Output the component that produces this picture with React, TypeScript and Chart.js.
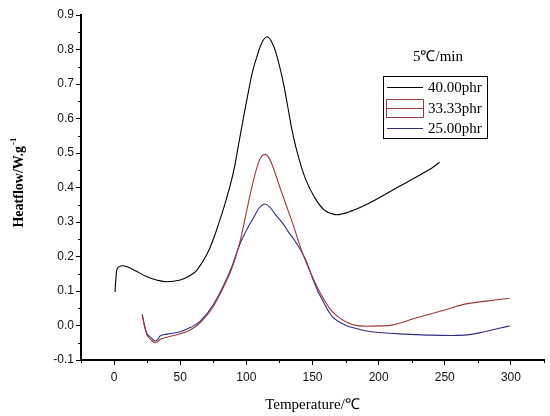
import React, { useEffect, useRef } from "react";
import { Chart, registerables } from "chart.js";

Chart.register(...registerables);

// ---- Data ----
const seriesLabels = ["40.00phr", "33.33phr", "25.00phr"];
const seriesColors = ["#000000", "#9a3a3a", "#2e2e7e"];

const temp40 = [0.7, 1.5, 2.5, 6, 10, 15, 25, 32, 40, 50, 57.5, 62.5, 70, 75, 80, 85, 90, 93.8, 97.5, 101.3, 105, 108.8, 112, 115.8, 119, 122.5, 127.5, 131.3, 135, 140, 145, 151.3, 158.8, 166.3, 172, 180, 190, 215, 240, 246];
const heat40 = [0.097, 0.14, 0.166, 0.173, 0.17, 0.161, 0.141, 0.132, 0.127, 0.132, 0.145, 0.16, 0.205, 0.25, 0.306, 0.368, 0.441, 0.518, 0.596, 0.673, 0.741, 0.789, 0.822, 0.837, 0.823, 0.789, 0.712, 0.634, 0.557, 0.48, 0.422, 0.373, 0.335, 0.322, 0.323, 0.333, 0.349, 0.402, 0.456, 0.473];

const temp33 = [21.3, 23, 25, 28, 31.3, 35, 40, 50, 57.5, 65, 75, 87.5, 92, 95, 98.8, 102.5, 106, 109, 111.5, 114.5, 117.5, 121, 126, 130, 135, 142.5, 150, 157.5, 165, 175, 185, 200, 210, 227.5, 250, 265, 280, 299];
const heat33 = [0.03, 0.0, -0.028, -0.042, -0.05, -0.04, -0.034, -0.024, -0.013, 0.008, 0.055, 0.151, 0.2, 0.24, 0.306, 0.373, 0.43, 0.47, 0.49, 0.496, 0.483, 0.45, 0.393, 0.35, 0.296, 0.209, 0.141, 0.083, 0.04, 0.011, -0.001, -0.001, 0.001, 0.021, 0.045, 0.062, 0.07, 0.079];

const temp25 = [21.3, 23, 25, 28, 31, 33, 35, 40, 50, 57.5, 65, 75, 87.5, 95, 100, 103, 106.3, 110, 113.8, 117.5, 121.3, 127.5, 132, 136.3, 142.5, 146, 150, 154, 157.5, 165, 175, 182.5, 190, 202.5, 220, 240, 265, 280, 299];
const heat25 = [0.032, 0.0, -0.025, -0.035, -0.045, -0.04, -0.03, -0.025, -0.018, -0.006, 0.012, 0.06, 0.156, 0.235, 0.275, 0.297, 0.318, 0.342, 0.352, 0.344, 0.325, 0.296, 0.27, 0.248, 0.209, 0.18, 0.137, 0.1, 0.074, 0.026, 0.001, -0.008, -0.015, -0.021, -0.025, -0.028, -0.028, -0.018, -0.001];

const xTickValues = [0, 50, 100, 150, 200, 250, 300];
const xMinorValues = [-25, 25, 75, 125, 175, 225, 275, 325];
const yTickValues = [-0.1, 0, 0.1, 0.2, 0.3, 0.4, 0.5, 0.6, 0.7, 0.8, 0.9];
const yTickLabels = ["-0.1", "0.0", "0.1", "0.2", "0.3", "0.4", "0.5", "0.6", "0.7", "0.8", "0.9"];
const yMinorValues = [-0.05, 0.05, 0.15, 0.25, 0.35, 0.45, 0.55, 0.65, 0.75, 0.85];

const xTitle = "Temperature/\u2103";
const yTitle = "Heatflow/W.g";
const yTitleSup = "-1";
const legendTitle = "5\u2103/min";

const toPoints = (xs: number[], ys: number[]) => xs.map((x, i) => ({ x, y: ys[i] }));

const decorPlugin = {
  id: "decor",
  afterDraw(chart: any) {
    const ctx = chart.ctx as CanvasRenderingContext2D;
    const xs = chart.scales.x;
    const ys = chart.scales.y;
    const area = chart.chartArea;
    ctx.save();
    // minor ticks
    ctx.strokeStyle = "#000";
    ctx.lineWidth = 1;
    ctx.beginPath();
    xMinorValues.forEach((v) => {
      const px = Math.round(xs.getPixelForValue(v)) + 0.5;
      ctx.moveTo(px, area.bottom);
      ctx.lineTo(px, area.bottom + 3);
    });
    yMinorValues.forEach((v) => {
      const py = Math.round(ys.getPixelForValue(v)) + 0.5;
      ctx.moveTo(area.left, py);
      ctx.lineTo(area.left - 3, py);
    });
    ctx.stroke();

    // x title
    ctx.fillStyle = "#000";
    ctx.font = '15px "Liberation Serif"';
    ctx.textAlign = "center";
    ctx.textBaseline = "middle";
    ctx.fillText(xTitle, (area.left + area.right) / 2, 405);

    // y title with superscript
    ctx.save();
    ctx.translate(18, 183);
    ctx.rotate(-Math.PI / 2);
    ctx.font = 'bold 14px "Liberation Serif"';
    const w = ctx.measureText(yTitle).width;
    ctx.font = 'bold 9px "Liberation Serif"';
    const ws = ctx.measureText(yTitleSup).width;
    const start = -(w + ws) / 2;
    ctx.textAlign = "left";
    ctx.textBaseline = "alphabetic";
    ctx.font = 'bold 14px "Liberation Serif"';
    ctx.fillText(yTitle, start, 5);
    ctx.font = 'bold 9px "Liberation Serif"';
    ctx.fillText(yTitleSup, start + w + 1, -2);
    ctx.restore();

    // legend title
    ctx.font = '15px "Liberation Serif"';
    ctx.textAlign = "center";
    ctx.textBaseline = "middle";
    ctx.fillText(legendTitle, 438, 57);

    // legend box
    ctx.lineWidth = 1;
    ctx.strokeStyle = "#000";
    ctx.strokeRect(383.5, 76.5, 104, 62);
    const rows = [87, 108, 128];
    ctx.font = '15px "Liberation Serif"';
    ctx.textAlign = "left";
    chart.data.datasets.forEach((ds: any, i: number) => {
      const y = rows[i];
      ctx.strokeStyle = ds.borderColor;
      ctx.beginPath();
      if (i === 1) {
        ctx.rect(386.5, y - 8.5, 37, 18);
      }
      ctx.moveTo(387, y + 0.5);
      ctx.lineTo(423, y + 0.5);
      ctx.stroke();
      ctx.fillStyle = "#000";
      ctx.fillText(ds.label, 428, y + 1);
    });
    ctx.restore();
  },
};

export default function App() {
  const ref = useRef<HTMLCanvasElement | null>(null);
  useEffect(() => {
    document.body.style.margin = "0";
    if (!ref.current) return;
    const datasets = [
      { label: seriesLabels[0], data: toPoints(temp40, heat40), borderColor: seriesColors[0] },
      { label: seriesLabels[1], data: toPoints(temp33, heat33), borderColor: seriesColors[1] },
      { label: seriesLabels[2], data: toPoints(temp25, heat25), borderColor: seriesColors[2] },
    ].map((d) => ({
      ...d,
      borderWidth: 1.1,
      pointRadius: 0,
      fill: false,
      tension: 0.4,
    }));
    const tickFont = { family: '"Liberation Sans", Arial', size: 12 };
    const chart = new Chart(ref.current, {
      type: "line",
      data: { datasets },
      plugins: [decorPlugin],
      options: {
        animation: false,
        responsive: false,
        layout: { padding: { left: 0, top: 15, right: 6, bottom: 0 } },
        plugins: { legend: { display: false }, tooltip: { enabled: false } },
        scales: {
          x: {
            type: "linear",
            min: -25,
            max: 325,
            afterBuildTicks: (s: any) => {
              s.ticks = xTickValues.map((v) => ({ value: v }));
            },
            afterFit: (s: any) => {
              s.height = 56;
            },
            grid: { display: true, drawOnChartArea: false, drawTicks: true, tickLength: 5, color: "#000", lineWidth: 1 },
            border: { display: true, color: "#000", width: 2 },
            ticks: { color: "#111", font: tickFont, padding: 5, maxRotation: 0, autoSkip: false, callback: (v: any) => String(v) },
          },
          y: {
            type: "linear",
            min: -0.1,
            max: 0.9,
            afterBuildTicks: (s: any) => {
              s.ticks = yTickValues.map((v) => ({ value: v }));
            },
            afterFit: (s: any) => {
              s.width = 81;
            },
            grid: { display: true, drawOnChartArea: false, drawTicks: true, tickLength: 5, color: "#000", lineWidth: 1 },
            border: { display: true, color: "#000", width: 2 },
            ticks: {
              color: "#111",
              font: tickFont,
              padding: 2,
              autoSkip: false,
              callback: (_v: any, i: number) => yTickLabels[i],
            },
          },
        },
      },
    });
    return () => chart.destroy();
  }, []);
  return (
    <div style={{ width: 550, height: 416, background: "#fff" }}>
      <canvas ref={ref} width={550} height={416} style={{ display: "block" }} />
    </div>
  );
}
